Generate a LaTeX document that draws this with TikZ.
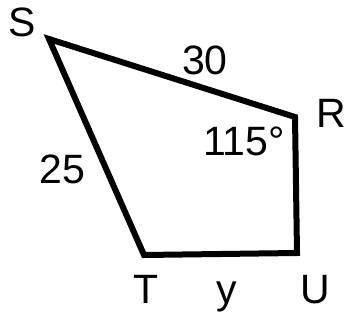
\documentclass[tikz,border=0pt]{standalone}
\usepackage{fontspec}
\setmainfont{Liberation Sans}
\usepackage{tikz}
\usetikzlibrary{positioning}
\tikzset{
  edgeline/.style={line width=6pt, line join=miter, draw=black},
  vlabel/.style={anchor=base, inner sep=0pt, font=\fontsize{41}{41}\selectfont, text=black}
}

\begin{document}
\begin{tikzpicture}[x=1pt, y=-1pt]
      \useasboundingbox (0,0) rectangle (347,320);
      % corners of the quadrilateral
      \coordinate (S) at (49,39);
      \coordinate (R) at (295,117);
      \coordinate (U) at (297,253);
      \coordinate (T) at (144,255);
      \draw[edgeline] (S) -- (R) -- (U) -- (T) -- cycle;
      % vertex names
      \node[vlabel] (s) at (22.5,37) {S};
      \node[vlabel] (r) at (331.5,128) {R};
      \node[vlabel] (u) at (315,303) {U};
      \node[vlabel] (t) at (146.5,303) {T};
      % measures
      \node[vlabel] (a) at (205,75) {30};
      \node[vlabel] (b) at (62.5,183) {25};
      \node[vlabel] (c) at (244,156) {115°};
      \node[vlabel] (y) at (227,303) {y};
    \end{tikzpicture}
\end{document}
